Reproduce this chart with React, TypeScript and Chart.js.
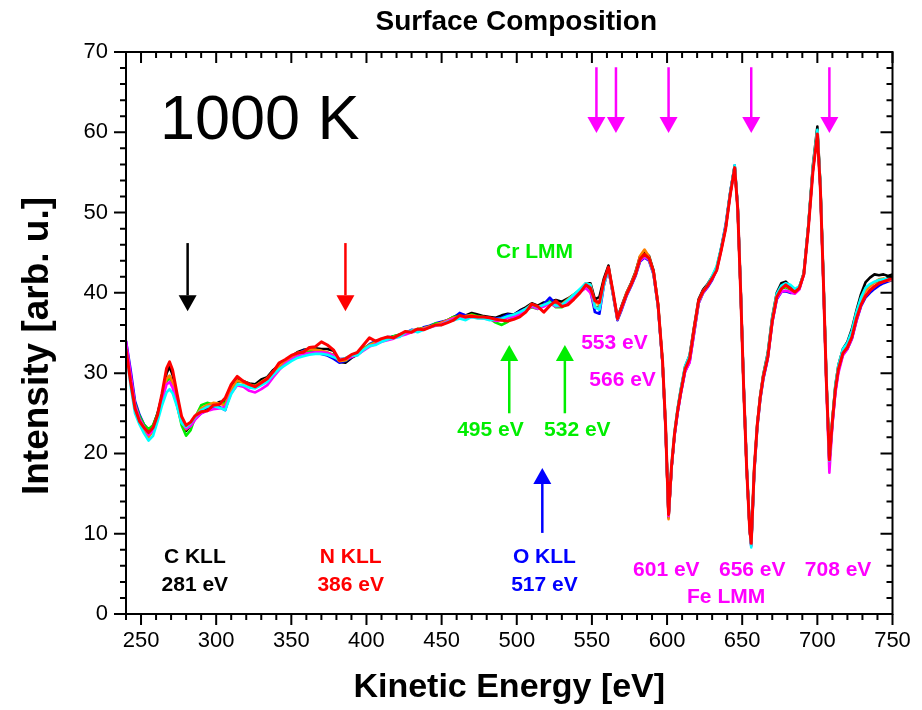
import React, { useEffect, useRef } from "react";
import { Chart, registerables } from "chart.js";

Chart.register(...registerables);

// Kinetic energy grid (eV)
const energy = [
  240, 243, 246, 249, 252, 255, 258, 261, 264, 267, 269, 271, 274, 277, 280, 283, 286,
  290, 294, 298, 302, 306, 310, 314, 318, 322, 326,
  330, 334, 338, 342, 346, 350, 354, 358, 362, 366,
  370, 374, 378, 382, 386, 390, 394, 398, 402, 406,
  410, 414, 418, 422, 426, 430, 434, 438, 442, 446,
  450, 454, 458, 462, 466, 470, 474, 478, 482, 486,
  490, 494, 498, 502, 506, 510, 514, 518, 522, 526,
  530, 534, 538, 542, 546,
  549, 552, 555, 558, 561, 564, 567, 570, 573, 576, 579, 582, 585, 588, 591, 594, 597,
  599, 601, 603, 605, 607, 609,
  612, 615, 618, 621, 624, 627, 630, 633, 636, 639, 642, 645,
  647, 649, 651, 653, 655, 656, 658, 660, 662, 664,
  667, 670, 673, 676, 679, 682, 685, 688, 691, 694, 697,
  700, 702, 704, 706, 708, 710, 712, 714,
  717, 720, 723, 726, 729, 732, 735, 738, 741, 744, 747, 750,
];

const seriesBlack = [
  33.5, 29.8, 26.0, 24.5, 23.5, 22.9, 23.4, 25.0, 27.2, 30.0, 30.8, 29.8, 27.0, 24.2, 22.8, 23.5, 24.5,
  25.3, 25.6, 26.0, 26.4, 26.5, 28.3, 29.2, 29.0, 28.7, 28.6,
  29.2, 29.5, 30.4, 31.0, 31.5, 32.1, 32.6, 32.9, 33.0, 33.1,
  33.0, 33.0, 32.8, 31.4, 31.3, 31.9, 32.3, 32.9, 33.4, 33.7,
  34.0, 34.3, 34.6, 34.7, 34.9, 35.3, 35.4, 35.6, 35.8, 36.1,
  36.3, 36.6, 37.0, 37.3, 37.2, 37.5, 37.3, 37.1, 37.0, 36.9,
  37.2, 37.4, 37.3, 37.8, 38.2, 38.7, 38.4, 38.8, 38.9, 39.1,
  38.9, 39.3, 39.8, 40.3, 41.2,
  41.2, 39.2, 39.5, 41.8, 43.4, 40.0, 36.9, 38.5, 40.0, 41.2, 42.6, 44.5, 45.1, 44.6, 42.8, 38.6, 31.3,
  23.2, 12.1, 18.3, 22.4, 25.4, 27.8,
  30.8, 32.2, 35.8, 39.2, 40.4, 41.1, 42.0, 43.0, 45.5, 48.2, 52.4, 55.7,
  50.6, 40.2, 28.2, 18.1, 10.4, 8.7, 17.9, 23.6, 27.2, 29.8,
  32.5, 37.0, 40.0, 41.2, 41.4, 40.8, 40.3, 40.7, 42.5, 48.4, 55.8,
  60.7, 53.5, 41.8, 29.2, 19.0, 24.2, 28.5, 31.0,
  33.0, 33.9, 35.5, 37.8, 39.8, 41.3, 41.9, 42.3, 42.2, 42.3, 42.1, 42.3,
];

const seriesBlue = [
  34.0, 30.5, 26.5, 24.8, 23.6, 22.9, 23.3, 24.6, 26.8, 29.0, 29.6, 28.9, 26.6, 24.3, 23.2, 23.5, 24.3,
  25.0, 25.4, 25.8, 25.8, 25.4, 27.8, 29.0, 28.9, 28.5, 28.2,
  28.8, 29.2, 30.0, 30.8, 31.5, 32.0, 32.4, 32.8, 32.8, 32.6,
  32.4, 32.2, 31.8, 31.3, 31.5, 32.0, 32.5, 33.0, 33.6, 34.0,
  34.2, 34.5, 34.5, 34.8, 35.0, 35.4, 35.3, 35.7, 35.9, 36.2,
  36.4, 36.6, 36.9, 37.5, 37.2, 37.1, 37.0, 36.9, 36.8, 36.8,
  36.9, 37.3, 37.2, 37.7, 38.0, 38.4, 38.1, 38.6, 39.4, 38.6,
  38.6, 39.0, 39.7, 40.2, 41.0,
  40.3, 37.6, 37.4, 41.0, 43.0, 39.8, 36.6, 38.0, 39.6, 40.8, 42.1, 43.9, 44.4, 44.0, 42.3, 38.3, 31.2,
  23.4, 12.0, 18.2, 22.3, 25.0, 27.3,
  30.2, 31.4, 35.0, 38.7, 40.0, 40.7, 41.6, 42.9, 45.6, 48.5, 52.5, 55.9,
  50.8, 40.3, 28.3, 18.2, 10.6, 8.5, 17.6, 23.2, 26.7, 29.2,
  31.8, 36.3, 39.2, 40.1, 40.2, 40.0, 40.0, 40.5, 42.3, 48.2, 55.3,
  60.0, 53.2, 41.7, 29.1, 19.0, 23.7, 27.8, 30.3,
  32.3, 33.0, 34.3, 36.5, 38.3, 39.4, 40.0, 40.5, 40.9, 41.2, 41.4, 41.6,
];

const seriesGreen = [
  33.3, 29.5, 26.2, 24.6, 23.6, 23.0, 23.5, 24.9, 26.8, 29.0, 29.4, 28.6, 26.0, 23.5, 22.2, 22.9, 24.5,
  26.0, 26.3, 26.1, 26.2, 26.3, 27.9, 29.0, 29.0, 28.6, 28.4,
  28.9, 29.3, 30.1, 30.8, 31.4, 31.8, 32.4, 32.6, 32.8, 32.9,
  32.7, 32.5, 32.3, 31.6, 31.6, 32.1, 32.5, 33.1, 33.5, 33.9,
  34.2, 34.3, 34.6, 34.8, 35.0, 35.2, 35.5, 35.6, 35.8, 36.2,
  36.2, 36.6, 37.0, 37.1, 37.0, 37.3, 37.1, 37.0, 36.8, 36.3,
  36.0, 36.4, 37.0, 37.5, 37.9, 38.2, 38.0, 38.4, 38.9, 38.2,
  38.2, 38.8, 39.3, 40.0, 40.8,
  40.4, 38.2, 38.3, 41.2, 43.1, 40.0, 36.7, 38.2, 39.8, 41.0, 42.3, 44.2, 44.8, 44.3, 42.5, 38.4, 31.3,
  23.5, 12.3, 18.4, 22.5, 25.3, 27.6,
  30.6, 31.8, 35.3, 38.8, 40.1, 40.9, 42.0, 43.2, 45.5, 48.2, 52.3, 55.8,
  50.6, 40.1, 28.1, 18.1, 10.6, 8.8, 18.0, 23.5, 27.0, 29.6,
  32.2, 36.7, 39.8, 40.5, 40.7, 40.4, 40.2, 40.6, 42.4, 48.3, 55.5,
  60.2, 53.3, 41.7, 29.0, 19.3, 24.1, 28.3, 30.8,
  32.8, 33.6, 35.0, 37.4, 39.2, 40.5, 41.0, 41.3, 41.5, 41.6, 41.8, 42.0,
];

const seriesOrange = [
  33.2, 29.3, 25.8, 24.2, 23.0, 22.0, 22.8, 24.6, 27.0, 29.3, 29.7, 28.9, 26.4, 24.0, 23.0, 23.6, 24.6,
  25.6, 26.0, 26.3, 26.2, 26.0, 28.0, 29.1, 28.8, 28.5, 28.4,
  28.9, 29.4, 30.2, 30.9, 31.4, 32.0, 32.5, 32.7, 33.0, 32.9,
  32.8, 32.6, 32.2, 31.5, 31.6, 32.1, 32.4, 33.0, 33.5, 33.8,
  34.1, 34.4, 34.5, 34.7, 35.0, 35.3, 35.4, 35.6, 35.8, 36.0,
  36.3, 36.6, 36.9, 37.0, 37.1, 37.2, 37.0, 36.9, 36.8, 36.7,
  36.7, 37.0, 37.1, 37.5, 38.0, 38.6, 38.3, 38.5, 38.7, 38.5,
  38.6, 39.2, 39.8, 40.3, 41.2,
  41.0, 38.8, 38.6, 41.4, 43.0, 39.9, 36.8, 38.3, 40.0, 41.1, 42.5, 44.6, 45.4, 44.5, 42.6, 38.6, 31.4,
  23.6, 11.8, 18.3, 22.6, 25.4, 27.7,
  30.7, 31.9, 35.5, 39.0, 40.2, 40.9, 41.9, 42.9, 45.4, 48.1, 52.3, 55.7,
  50.6, 40.1, 28.0, 18.0, 10.5, 8.6, 17.9, 23.5, 27.1, 29.6,
  32.1, 36.6, 39.6, 40.6, 40.9, 40.5, 40.2, 40.6, 42.4, 48.2, 55.3,
  60.1, 53.1, 41.6, 29.0, 19.0, 24.0, 28.2, 30.7,
  32.7, 33.5, 34.9, 37.2, 39.0, 40.2, 40.8, 41.3, 41.7, 41.8, 41.5, 41.6,
];

const seriesMagenta = [
  34.0, 30.0, 26.0, 24.3, 23.3, 22.3, 22.9, 24.4, 26.7, 28.6, 28.9, 28.2, 26.0, 23.9, 23.1, 23.4, 24.2,
  25.0, 25.3, 25.5, 25.6, 25.8, 27.5, 28.5, 28.3, 27.8, 27.6,
  28.0, 28.5, 29.5, 30.4, 31.2, 31.7, 32.1, 32.4, 32.5, 32.6,
  32.6, 32.5, 32.2, 31.8, 31.8, 32.0, 32.3, 32.8, 33.3, 33.6,
  33.9, 34.1, 34.3, 34.6, 34.8, 35.1, 35.2, 35.5, 35.7, 35.9,
  36.1, 36.5, 36.8, 36.9, 36.9, 37.0, 36.9, 36.8, 36.7, 36.5,
  36.6, 36.9, 37.0, 37.3, 37.8, 38.3, 38.0, 38.3, 38.7, 38.3,
  38.4, 38.9, 39.5, 40.1, 40.6,
  40.0, 38.2, 38.0, 41.0, 42.9, 39.9, 36.7, 38.1, 39.7, 40.9, 42.2, 44.0, 44.5, 44.1, 42.4, 38.3, 31.2,
  23.3, 12.2, 18.3, 22.3, 25.1, 27.3,
  30.2, 31.3, 35.0, 38.7, 40.0, 40.8, 41.7, 42.8, 45.3, 48.1, 52.2, 55.6,
  50.5, 40.0, 28.0, 18.0, 10.5, 8.5, 17.8, 23.4, 26.9, 29.4,
  31.9, 36.4, 39.3, 40.1, 40.3, 40.1, 39.9, 40.4, 42.3, 48.1, 55.2,
  60.0, 53.0, 41.2, 28.5, 17.6, 23.5, 27.5, 30.0,
  32.2, 33.0, 34.3, 36.5, 38.4, 39.6, 40.3, 40.8, 41.2, 41.4, 41.6, 41.8,
];

const seriesCyan = [
  33.0, 28.5, 25.0, 23.6, 22.5, 21.6, 22.2, 24.0, 26.0, 27.6, 28.0, 27.5, 25.8, 23.8, 23.3, 23.8, 24.5,
  25.4, 25.8, 25.9, 25.7, 25.4, 27.4, 28.6, 28.5, 28.2, 28.1,
  28.5, 28.9, 29.8, 30.5, 31.0, 31.5, 31.9, 32.1, 32.3, 32.4,
  32.4, 32.3, 32.0, 31.7, 31.9, 32.2, 32.2, 32.9, 33.4, 33.5,
  33.9, 34.2, 34.4, 34.5, 35.1, 35.3, 35.1, 35.4, 35.7, 36.0,
  36.0, 36.4, 36.6, 36.8, 36.6, 37.0, 36.8, 36.8, 36.6, 36.7,
  36.8, 37.1, 37.3, 37.6, 38.0, 38.5, 38.2, 38.5, 38.8, 38.4,
  38.5, 39.1, 39.8, 40.5, 41.2,
  41.0, 38.2, 37.9, 41.0, 43.0, 39.9, 36.8, 38.3, 39.8, 41.0, 42.3, 44.2, 44.7, 44.2, 42.4, 38.3, 31.3,
  23.6, 12.6, 18.6, 22.7, 25.6, 27.9,
  30.9, 32.2, 35.4, 38.9, 40.2, 41.0, 42.1, 43.3, 45.6, 48.3, 52.5, 55.9,
  50.7, 40.2, 28.2, 18.2, 10.7, 8.3, 17.7, 23.4, 27.0, 29.6,
  32.4, 36.9, 39.9, 40.9, 41.2, 41.0, 40.5, 40.8, 42.4, 48.3, 55.6,
  60.3, 53.4, 41.8, 29.3, 19.1, 24.1, 28.5, 31.0,
  33.0, 33.8, 35.3, 37.6, 39.4, 40.6, 41.1, 41.4, 41.6, 41.7, 41.8, 41.9,
];

const seriesRed = [
  33.0, 29.0, 25.6, 24.0, 23.2, 22.6, 23.2, 24.8, 27.5, 30.6, 31.4, 30.4, 27.4, 24.6, 23.5, 23.9, 24.7,
  25.2, 25.3, 26.0, 26.1, 26.9, 28.6, 29.6, 29.0, 28.6, 28.3,
  28.8, 29.3, 30.2, 31.3, 31.7, 32.2, 32.5, 32.6, 33.2, 33.3,
  33.9, 33.5, 32.9, 31.6, 31.8, 32.3, 32.6, 33.5, 34.4, 34.0,
  34.3, 34.5, 34.4, 34.8, 35.2, 35.1, 35.5, 35.4, 35.7, 36.0,
  36.0, 36.3, 36.6, 37.2, 37.0, 37.1, 37.0, 37.0, 36.9, 36.7,
  36.6, 36.5, 36.7, 37.0, 37.6, 38.6, 38.3, 37.6, 38.4, 39.0,
  38.3, 38.5, 39.2, 40.0, 41.0,
  40.6, 39.0, 38.8, 41.5, 43.2, 40.2, 36.8, 38.3, 39.8, 41.0, 42.3, 44.2, 44.8, 44.3, 42.6, 38.5, 31.5,
  23.5, 12.4, 18.5, 22.5, 25.3, 27.5,
  30.5, 31.8, 35.5, 39.0, 40.2, 40.9, 41.8, 42.8, 45.3, 48.0, 52.2, 55.6,
  50.5, 40.0, 28.0, 18.0, 10.5, 8.8, 18.0, 23.5, 27.0, 29.5,
  32.0, 36.5, 39.5, 40.5, 41.0, 40.5, 40.1, 40.6, 42.3, 48.0, 55.0,
  59.8, 53.0, 41.6, 29.0, 19.2, 24.0, 28.0, 30.5,
  32.5, 33.2, 34.5, 36.8, 38.5, 39.6, 40.3, 40.8, 41.2, 41.4, 41.6, 41.9,
];

// listed bottom-most first; red ends up on top
const seriesList = [
  { name: "black", color: "#000000", values: seriesBlack, width: 2.6 },
  { name: "blue", color: "#0000ff", values: seriesBlue, width: 2.6 },
  { name: "green", color: "#00ee00", values: seriesGreen, width: 2.6 },
  { name: "orange", color: "#ff8000", values: seriesOrange, width: 2.6 },
  { name: "magenta", color: "#ff00ff", values: seriesMagenta, width: 2.6 },
  { name: "cyan", color: "#00ffff", values: seriesCyan, width: 2.6 },
  { name: "red", color: "#ff0000", values: seriesRed, width: 3 },
];

const xTickLabels = [250, 300, 350, 400, 450, 500, 550, 600, 650, 700, 750];
const yTickLabels = [0, 10, 20, 30, 40, 50, 60, 70];

// Arrows: energy, from-intensity, to-intensity (tip), color
const arrowEnergies = [281, 386, 553, 566, 601, 656, 708, 495, 532, 517];
const arrowFrom = [46.2, 46.2, 68.1, 68.1, 68.1, 68.1, 68.1, 25.0, 25.0, 10.1];
const arrowTo = [37.7, 37.7, 59.9, 59.9, 59.9, 59.9, 59.9, 33.5, 33.5, 18.2];
const arrowColors = ["#000000", "#ff0000", "#ff00ff", "#ff00ff", "#ff00ff", "#ff00ff", "#ff00ff", "#00ee00", "#00ee00", "#0000ff"];

// Text labels: text, energy, intensity (centre), color
const labelTexts = ["C KLL", "281 eV", "N KLL", "386 eV", "O KLL", "517 eV", "Cr LMM", "495 eV", "532 eV", "553 eV", "566 eV", "601 eV", "656 eV", "708 eV", "Fe LMM"];
const labelEnergies = [285.8, 285.8, 389.5, 389.5, 518.4, 518.4, 511.8, 482.5, 540.3, 565.0, 570.4, 599.5, 656.7, 713.8, 639.3];
const labelIntensities = [7.1, 3.6, 7.1, 3.6, 7.1, 3.6, 45.1, 22.9, 22.9, 33.7, 29.1, 5.5, 5.5, 5.5, 2.15];
const labelColors = ["#000000", "#000000", "#ff0000", "#ff0000", "#0000ff", "#0000ff", "#00ee00", "#00ee00", "#00ee00", "#ff00ff", "#ff00ff", "#ff00ff", "#ff00ff", "#ff00ff", "#ff00ff"];

const FONT = "'Liberation Sans', Arial, Helvetica, sans-serif";

const decorPlugin = {
  id: "decor",
  afterDatasetsDraw(chart: any) {
    const { ctx, chartArea: a, scales } = chart;
    const x = scales.x;
    const y = scales.y;
    ctx.save();

    // arrows
    for (let i = 0; i < arrowEnergies.length; i++) {
      const px = x.getPixelForValue(arrowEnergies[i]);
      const p0 = y.getPixelForValue(arrowFrom[i]);
      const p1 = y.getPixelForValue(arrowTo[i]);
      const dir = p1 > p0 ? 1 : -1;
      const headLen = 16;
      const headHalf = 9;
      ctx.strokeStyle = arrowColors[i];
      ctx.fillStyle = arrowColors[i];
      ctx.lineWidth = 2.5;
      ctx.beginPath();
      ctx.moveTo(px, p0);
      ctx.lineTo(px, p1 - dir * headLen);
      ctx.stroke();
      ctx.beginPath();
      ctx.moveTo(px, p1);
      ctx.lineTo(px - headHalf, p1 - dir * headLen);
      ctx.lineTo(px + headHalf, p1 - dir * headLen);
      ctx.closePath();
      ctx.fill();
    }

    // labels
    ctx.font = `bold 21px ${FONT}`;
    ctx.textAlign = "center";
    ctx.textBaseline = "middle";
    for (let i = 0; i < labelTexts.length; i++) {
      ctx.fillStyle = labelColors[i];
      ctx.fillText(labelTexts[i], x.getPixelForValue(labelEnergies[i]), y.getPixelForValue(labelIntensities[i]));
    }

    // big temperature label
    ctx.fillStyle = "#000";
    ctx.font = `63px ${FONT}`;
    ctx.textAlign = "left";
    ctx.textBaseline = "alphabetic";
    ctx.fillText("1000 K", x.getPixelForValue(262.6), y.getPixelForValue(59.2));

    // frame
    ctx.strokeStyle = "#000";
    ctx.lineWidth = 2;
    ctx.strokeRect(a.left, a.top, a.right - a.left, a.bottom - a.top);

    // ticks
    ctx.lineWidth = 2;
    ctx.beginPath();
    for (let v = 240; v <= 750; v += 10) {
      const px = x.getPixelForValue(v);
      const major = v % 50 === 0;
      const len = major ? 11 : 6;
      ctx.moveTo(px, a.bottom);
      ctx.lineTo(px, a.bottom + len);
      ctx.moveTo(px, a.top);
      ctx.lineTo(px, a.top + len);
    }
    for (let v = 0; v <= 70; v += 2) {
      const py = y.getPixelForValue(v);
      const major = v % 10 === 0;
      const len = major ? 12 : 6;
      ctx.moveTo(a.left - len, py);
      ctx.lineTo(a.left, py);
      ctx.moveTo(a.right, py);
      ctx.lineTo(a.right - len, py);
    }
    ctx.stroke();

    // tick labels
    ctx.fillStyle = "#000";
    ctx.font = `22px ${FONT}`;
    ctx.textAlign = "center";
    ctx.textBaseline = "top";
    for (const v of xTickLabels) {
      ctx.fillText(String(v), x.getPixelForValue(v), a.bottom + 16);
    }
    ctx.textAlign = "right";
    ctx.textBaseline = "middle";
    for (const v of yTickLabels) {
      ctx.fillText(String(v), a.left - 18, y.getPixelForValue(v));
    }

    // titles
    ctx.textAlign = "center";
    ctx.textBaseline = "middle";
    ctx.font = `bold 28px ${FONT}`;
    ctx.fillText("Surface Composition", (a.left + a.right) / 2 + 7, 22);
    ctx.font = `bold 34px ${FONT}`;
    ctx.fillText("Kinetic Energy [eV]", (a.left + a.right) / 2, 688);
    ctx.save();
    ctx.translate(38, (a.top + a.bottom) / 2 + 13);
    ctx.rotate(-Math.PI / 2);
    ctx.font = `bold 37px ${FONT}`;
    ctx.fillText("Intensity [arb. u.]", 0, 0);
    ctx.restore();

    ctx.restore();
  },
};

export default function App() {
  const ref = useRef<HTMLCanvasElement | null>(null);

  useEffect(() => {
    if (!ref.current) return;
    // Chart.js paints dataset 0 last (on top), so reverse the list
    const ordered = [...seriesList].reverse();
    const chart = new Chart(ref.current, {
      type: "line",
      data: {
        datasets: ordered.map((s) => ({
          label: s.name,
          data: energy.map((e, i) => ({ x: e, y: s.values[i] })),
          borderColor: s.color,
          backgroundColor: s.color,
          borderWidth: s.width,
          pointRadius: 0,
          tension: 0,
          borderJoinStyle: "round" as const,
          fill: false,
        })),
      },
      options: {
        responsive: false,
        animation: false,
        devicePixelRatio: 1,
        layout: { padding: { left: 126, top: 52, right: 29.5, bottom: 96 } },
        plugins: { legend: { display: false }, tooltip: { enabled: false }, title: { display: false } },
        scales: {
          x: { type: "linear", min: 240, max: 750, display: false },
          y: { type: "linear", min: 0, max: 70, display: false },
        },
      },
      plugins: [decorPlugin],
    });
    return () => chart.destroy();
  }, []);

  return (
    <div style={{ position: "fixed", left: 0, top: 0, width: 922, height: 710, background: "#fff" }}>
      <canvas ref={ref} width={922} height={710} />
    </div>
  );
}
